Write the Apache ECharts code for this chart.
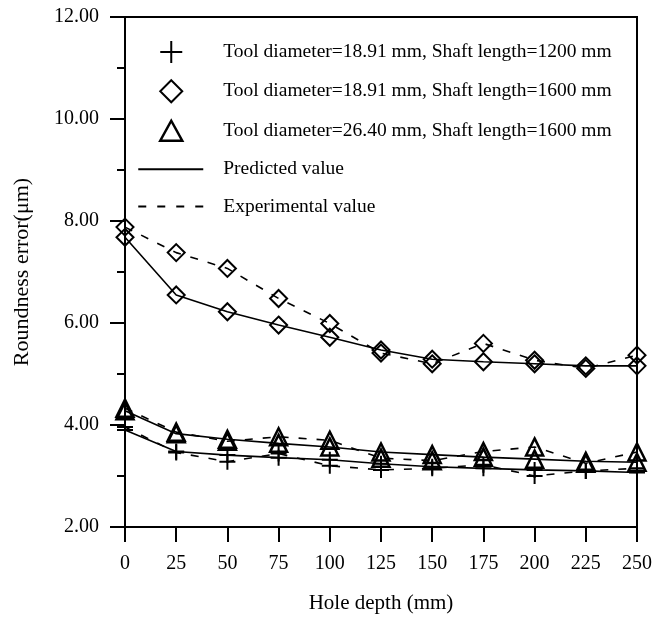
<!DOCTYPE html>
<html>
<head>
<meta charset="utf-8">
<script src="https://cdn.jsdelivr.net/npm/echarts@6/dist/echarts.min.js"></script>
<style>
  html, body { margin: 0; padding: 0; background: #fff; }
  #chart { width: 653px; height: 618px; }
</style>
</head>
<body>
<div id="chart"></div>
<script>
// hole depth (mm)
const depth = [0, 25, 50, 75, 100, 125, 150, 175, 200, 225, 250];

// roundness error (um)
const pred1200 = [3.90, 3.48, 3.41, 3.36, 3.32, 3.24, 3.18, 3.15, 3.12, 3.10, 3.07];
const exp1200  = [3.96, 3.46, 3.28, 3.44, 3.20, 3.12, 3.15, 3.22, 3.00, 3.10, 3.15];
const pred1600 = [7.68, 6.55, 6.22, 5.96, 5.72, 5.47, 5.29, 5.24, 5.20, 5.16, 5.16];
const exp1600  = [7.88, 7.38, 7.07, 6.48, 5.99, 5.41, 5.20, 5.60, 5.27, 5.11, 5.37];
const pred2640 = [4.28, 3.83, 3.72, 3.64, 3.57, 3.47, 3.42, 3.37, 3.33, 3.29, 3.27];
const exp2640  = [4.33, 3.86, 3.68, 3.77, 3.70, 3.35, 3.30, 3.48, 3.57, 3.25, 3.47];

const legendNames = [
  "Tool diameter=18.91 mm, Shaft length=1200 mm",
  "Tool diameter=18.91 mm, Shaft length=1600 mm",
  "Tool diameter=26.40 mm, Shaft length=1600 mm",
  "Predicted value",
  "Experimental value"
];

const FONT = "Liberation Serif";
const PLUS = "path://M8,0V16M0,8H16";

// the box every legend icon lives in is 80x22, the leading M's pin its bounds
const BOX = "M0,0M80,22";
const legendIcons = [
  "path://" + BOX + "M33,0V22M22,11H44",
  "path://" + BOX + "M33,0L44,11L33,22L22,11Z",
  "path://" + BOX + "M33,1L44,21L22,21Z",
  "path://" + BOX + "M0,10H65V12H0Z",
  "path://" + BOX + "M0,10H8V12H0ZM19,10H27V12H19ZM38,10H46V12H38ZM57,10H65V12H57Z"
];

function curve(name, values, symbol, size, dashed, bw) {
  return {
    name: name,
    type: "line",
    data: depth.map((d, i) => [d, values[i]]),
    symbol: symbol,
    symbolSize: size,
    lineStyle: { color: "#000", width: 1.6, type: dashed ? [8, 10] : "solid" },
    itemStyle: { color: "transparent", borderColor: "#000", borderWidth: bw },
    emphasis: { disabled: true },
    z: dashed ? 2 : 3
  };
}

let myChart = echarts.init(document.getElementById("chart"));
myChart.setOption({
  animation: false,
  grid: {
    left: 125, right: 16, top: 17, bottom: 91,
    outerBoundsMode: "none",
    show: true, borderColor: "#000", borderWidth: 2
  },
  legend: {
    orient: "vertical",
    left: 137,
    top: 40,
    padding: 0,
    itemWidth: 80,
    itemHeight: 22,
    itemGap: 15.25,
    selectedMode: false,
    textStyle: { fontFamily: FONT, fontSize: 19.5, color: "#000" },
    data: legendNames.map((n, i) => ({
      name: n,
      icon: legendIcons[i],
      itemStyle: i < 3
        ? { color: "transparent", borderColor: "#000", borderWidth: i === 2 ? 2.5 : 2 }
        : { color: "#000", borderWidth: 0 }
    }))
  },
  xAxis: {
    type: "value",
    min: 0, max: 250, interval: 25,
    name: "Hole depth (mm)",
    nameLocation: "middle",
    nameGap: 66,
    nameTextStyle: { fontFamily: FONT, fontSize: 21, color: "#000" },
    axisLine: { lineStyle: { color: "#000", width: 2 } },
    axisTick: { length: 15, lineStyle: { color: "#000", width: 2 } },
    axisLabel: { fontFamily: FONT, fontSize: 20, color: "#000", margin: 27 },
    splitLine: { show: false }
  },
  yAxis: {
    type: "value",
    min: 2, max: 12, interval: 2,
    name: "Roundness error(μm)",
    nameLocation: "middle",
    nameGap: 92,
    nameTextStyle: { fontFamily: FONT, fontSize: 22, color: "#000" },
    axisLine: { lineStyle: { color: "#000", width: 2 } },
    axisTick: { length: 15, lineStyle: { color: "#000", width: 2 } },
    minorTick: { show: true, splitNumber: 2, length: 8, lineStyle: { color: "#000", width: 2 } },
    axisLabel: {
      fontFamily: FONT, fontSize: 20, color: "#000", margin: 26,
      formatter: v => v.toFixed(2)
    },
    splitLine: { show: false }
  },
  series: [
    curve("pred 18.91/1200", pred1200, PLUS, 16, false, 2),
    curve("exp 18.91/1200", exp1200, PLUS, 16, true, 2),
    curve("pred 18.91/1600", pred1600, "diamond", 17, false, 2),
    curve("exp 18.91/1600", exp1600, "diamond", 17, true, 2),
    curve("pred 26.40/1600", pred2640, "triangle", 17, false, 2.5),
    curve("exp 26.40/1600", exp2640, "triangle", 17, true, 2.5)
  ].concat(legendNames.map(n => ({ name: n, type: "line", data: [] })))
});
</script>
</body>
</html>
